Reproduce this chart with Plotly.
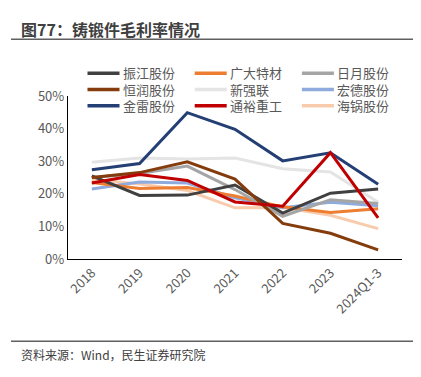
import plotly.graph_objects as go

categories = ["2018", "2019", "2020", "2021", "2022", "2023", "2024Q1-3"]

zhenjiang = [0.255, 0.195, 0.196, 0.227, 0.141, 0.202, 0.215]
guangda = [0.235, 0.216, 0.219, 0.193, 0.160, 0.143, 0.154]
riyue = [0.250, 0.262, 0.285, 0.213, 0.131, 0.182, 0.170]
hengrun = [0.250, 0.265, 0.298, 0.245, 0.109, 0.079, 0.028]
xinqianglian = [0.297, 0.310, 0.307, 0.310, 0.277, 0.267, 0.174]
hongde = [0.215, 0.236, 0.233, 0.188, 0.157, 0.174, 0.163]
jinlei = [0.274, 0.293, 0.449, 0.398, 0.301, 0.326, 0.229]
tongyu = [0.233, 0.259, 0.241, 0.175, 0.162, 0.326, 0.126]
haiguo = [0.244, 0.230, 0.210, 0.157, 0.158, 0.134, 0.093]

series = [
    ("振江股份", zhenjiang, "#404040"),
    ("广大特材", guangda, "#ED7D31"),
    ("日月股份", riyue, "#A5A5A5"),
    ("恒润股份", hengrun, "#843C0C"),
    ("新强联", xinqianglian, "#E4E4E4"),
    ("宏德股份", hongde, "#8FAADC"),
    ("金雷股份", jinlei, "#233F74"),
    ("通裕重工", tongyu, "#C00000"),
    ("海锅股份", haiguo, "#F8CBAD"),
]

font_family = "Noto Sans CJK SC, Microsoft YaHei, sans-serif"
legend_family = "Liberation Sans, Noto Sans CJK SC, sans-serif"

# page body margin offset (figure drawn at 8,8 in the window)
OFF = 8
W, H = 421 - OFF, 377 - OFF
L, R, T, B = 60, 19, 88, 117.5
PW, PH = W - L - R, H - T - B


def px_x(x):
    return (x - OFF - L) / PW


def px_y(y):
    return (H - B - (y - OFF)) / PH


fig = go.Figure()
draw_order = [4, 8, 5, 1, 2, 0, 3, 6, 7]
for i in draw_order:
    name, vals, color = series[i]
    fig.add_trace(go.Scatter(
        x=categories, y=vals, mode="lines", name=name,
        line=dict(color=color, width=3), showlegend=False,
    ))

fig.update_layout(
    width=W, height=H,
    margin=dict(l=L, r=R, t=T, b=B, autoexpand=False),
    paper_bgcolor="white", plot_bgcolor="white",
    font=dict(family=font_family, color="#595959", size=13),
    showlegend=False,
    xaxis=dict(
        type="category", categoryorder="array", categoryarray=categories,
        range=[-0.5, 6.5], showline=True, linecolor="#000000", linewidth=1.2,
        showgrid=False, ticks="", tickangle=-45,
        tickfont=dict(size=13, color="#595959"), zeroline=False,
    ),
    yaxis=dict(
        range=[0, 0.5], tickvals=[0, 0.1, 0.2, 0.3, 0.4, 0.5],
        tickformat=".0%", showline=True, linecolor="#000000", linewidth=1.2,
        showgrid=False, ticks="", zeroline=False,
        tickfont=dict(size=13, color="#595959"),
    ),
)

# legend (3 columns x 3 rows)
col_x = [87.5, 194.7, 301.9]
row_y = [73.3, 89.5, 105.7]
for i, (name, vals, color) in enumerate(series):
    cx = col_x[i % 3]
    ry = row_y[i // 3]
    fig.add_shape(type="line", xref="paper", yref="paper",
                  x0=px_x(cx), x1=px_x(cx + 32), y0=px_y(ry), y1=px_y(ry),
                  line=dict(color=color, width=3.5))
    fig.add_annotation(
        text=name, xref="paper", yref="paper",
        x=px_x(cx + 34), y=px_y(ry + 0.5), xanchor="left",
        yanchor="middle", align="left", showarrow=False, borderpad=0,
        font=dict(size=13, color="#595959", family=legend_family),
    )

fig.add_annotation(
    text="<b>图77：铸锻件毛利率情况</b>", xref="paper", yref="paper",
    x=px_x(19), y=px_y(29), xanchor="left", yanchor="middle", showarrow=False,
    font=dict(size=16, color="#404040", family=font_family),
)
fig.add_annotation(
    text="资料来源：Wind，民生证券研究院", xref="paper", yref="paper",
    x=px_x(19), y=px_y(355), xanchor="left", yanchor="middle", showarrow=False,
    font=dict(size=12, color="#404040", family=font_family),
)

for yy in (39, 342):
    fig.add_shape(type="line", xref="paper", yref="paper",
                  x0=px_x(11), x1=px_x(418), y0=px_y(yy), y1=px_y(yy),
                  line=dict(color="#606060", width=1.5))

fig.write_html("out.html")
